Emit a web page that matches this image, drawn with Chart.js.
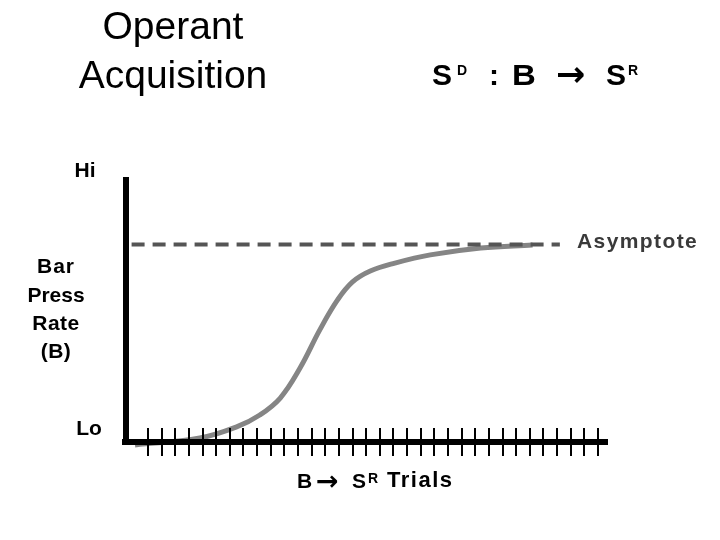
<!DOCTYPE html>
<html>
<head>
<meta charset="utf-8">
<script src="https://cdn.jsdelivr.net/npm/chart.js@4.4.1/dist/chart.umd.min.js"></script>
<style>
  html,body{margin:0;padding:0;background:#fff;}
  #wrap{position:relative;width:720px;height:540px;overflow:hidden;}
  #c{position:absolute;left:0;top:0;}
  .t{position:absolute;white-space:nowrap;font-family:"Liberation Sans",Arial,sans-serif;color:#000;line-height:1;}
  .b{font-weight:bold;}
  .arr{font-family:"DejaVu Sans",sans-serif;font-weight:bold;}
</style>
</head>
<body>
<div id="wrap">
  <canvas id="c" width="720" height="540"></canvas>

  <div class="t" style="left:73px;width:200px;text-align:center;top:6px;font-size:39px;">Operant</div>
  <div class="t" style="left:73px;width:200px;text-align:center;top:55px;font-size:39px;">Acquisition</div>

  <div class="t b" style="left:432px;top:60px;font-size:30px;">S</div>
  <div class="t b" style="left:457px;top:63px;font-size:14px;">D</div>
  <div class="t b" style="left:489px;top:60px;font-size:30px;">:</div>
  <div class="t b" style="left:512px;top:60px;font-size:30px;transform:scaleX(1.1);transform-origin:left;">B</div>
  <div class="t arr" style="left:556px;top:57px;font-size:35px;">→</div>
  <div class="t b" style="left:606px;top:60px;font-size:30px;">S</div>
  <div class="t b" style="left:628px;top:63px;font-size:14px;">R</div>

  <div class="t b" style="left:35px;width:100px;text-align:center;top:159px;font-size:21px;">Hi</div>
  <div class="t b" style="left:6px;width:100px;text-align:center;top:255px;font-size:21px;letter-spacing:1px;">Bar</div>
  <div class="t b" style="left:6px;width:100px;text-align:center;top:284px;font-size:21px;">Press</div>
  <div class="t b" style="left:6px;width:100px;text-align:center;top:312px;font-size:21px;letter-spacing:0.5px;">Rate</div>
  <div class="t b" style="left:6px;width:100px;text-align:center;top:340px;font-size:21px;letter-spacing:0.5px;">(B)</div>
  <div class="t b" style="left:39px;width:100px;text-align:center;top:417px;font-size:21px;">Lo</div>

  <div class="t b" style="left:577px;top:230px;font-size:21px;letter-spacing:1.4px;color:#3a3a3a;">Asymptote</div>

  <div class="t b" style="left:297px;top:470px;font-size:21px;">B</div>
  <div class="t arr" style="left:316px;top:467px;font-size:27px;">→</div>
  <div class="t b" style="left:352px;top:470px;font-size:21px;">S</div>
  <div class="t b" style="left:368px;top:471px;font-size:14px;">R</div>
  <div class="t b" style="left:387px;top:469px;font-size:22px;letter-spacing:1.5px;">Trials</div>
</div>

<script>
// Data
const trialX   = [0.05, 4.8, 7.5, 9.2, 10.7, 12.15, 13.6, 14.9, 16.0, 17.3, 19.1, 21.7, 25.4, 29.2];
const barRate  = [-1.1, 1.5, 5.7, 10.2, 16.6, 27.9, 42.3, 53.6, 60.4, 64.5, 67.5, 70.6, 73.2, 74.3];
const asymptoteX = [-0.2, 31.2];
const asymptoteY = [74.5, 74.5];
const trialTicks = Array.from({length: 34}, (_, i) => i + 1);
const xRange = [-0.61, 34.73];
const yRange = [0, 100];

const curvePts = trialX.map((x, i) => ({x: x, y: barRate[i]}));
const asymPts = asymptoteX.map((x, i) => ({x: x, y: asymptoteY[i]}));

const axesPlugin = {
  id: 'axesPlugin',
  afterDatasetsDraw(chart) {
    const ctx = chart.ctx;
    const xs = chart.scales.x, ys = chart.scales.y;
    const left = xs.getPixelForValue(xRange[0]);
    const right = xs.getPixelForValue(xRange[1]);
    const top = ys.getPixelForValue(yRange[1]);
    const base = ys.getPixelForValue(yRange[0]);
    ctx.save();
    ctx.fillStyle = '#000';
    // y axis
    ctx.fillRect(left - 3, top, 6, base - top + 3);
    // x axis
    ctx.fillRect(left - 4, base - 3, right - left + 4, 6);
    // tick marks crossing the x axis
    trialTicks.forEach(v => {
      const px = xs.getPixelForValue(v);
      ctx.fillRect(Math.round(px) - 1, base - 14, 2, 28);
    });
    ctx.restore();
  }
};

new Chart(document.getElementById('c'), {
  type: 'line',
  data: {
    datasets: [
      {
        data: asymPts,
        borderColor: '#555555',
        borderWidth: 4,
        borderDash: [13, 8],
        borderCapStyle: 'butt',
        pointRadius: 0,
        fill: false,
        clip: false
      },
      {
        data: curvePts,
        borderColor: '#858585',
        borderWidth: 5,
        tension: 0.4,
        pointRadius: 0,
        fill: false,
        clip: false
      }
    ]
  },
  options: {
    responsive: false,
    animation: false,
    events: [],
    layout: {padding: {left: 126, right: 112, top: 177, bottom: 98}},
    plugins: {legend: {display: false}, tooltip: {enabled: false}, title: {display: false}},
    scales: {
      x: {type: 'linear', min: xRange[0], max: xRange[1], display: false},
      y: {type: 'linear', min: yRange[0], max: yRange[1], display: false}
    }
  },
  plugins: [axesPlugin]
});
</script>
</body>
</html>
